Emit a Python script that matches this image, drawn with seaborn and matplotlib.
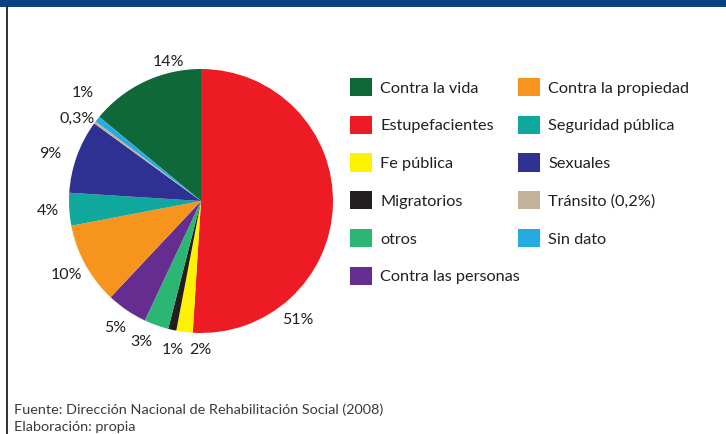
import numpy as np
import matplotlib
matplotlib.use("Agg")
import matplotlib.pyplot as plt
import seaborn as sns
from matplotlib.patches import Rectangle
from matplotlib.lines import Line2D

# data (legend order, clockwise from Contra la vida)
categories = ["Contra la vida", "Estupefacientes", "Fe pública", "Migratorios", "otros",
              "Contra las personas", "Contra la propiedad", "Seguridad pública", "Sexuales",
              "Tránsito (0,2%)", "Sin dato"]
values = [14, 51, 2, 1, 3, 5, 10, 4, 9, 0.3, 0.7]
pct_labels = ["14%", "51%", "2%", "1%", "3%", "5%", "10%", "4%", "9%", "0,3%", "1%"]
colors = ["#0e6838", "#ed1c24", "#fff200", "#231f20", "#2bb673", "#662d91",
          "#f7941d", "#10a89d", "#2e3192", "#c3b299", "#27aae1"]

sns.set_style("white")
plt.rcParams["font.family"] = ["Lato", "DejaVu Sans"]
txt_color = "#231f20"

fig = plt.figure(figsize=(7.26, 4.34), dpi=100)

# frame decorations: blue top band and left rule
fig.patches.append(Rectangle((0, 1 - 7 / 434), 1, 7 / 434, transform=fig.transFigure,
                             facecolor="#0a4182", edgecolor="none"))
fig.lines.append(Line2D([6.5 / 726, 6.5 / 726], [0, 1 - 7 / 434], transform=fig.transFigure,
                        color="#231f20", lw=1.3))

ax = fig.add_axes([69 / 726, 101 / 434, 264 / 726, 264 / 434])
total = sum(values)
start = 90 + values[0] / total * 360
wedges, _ = ax.pie(values, colors=colors, startangle=start, counterclock=False,
                   wedgeprops=dict(linewidth=0))
ax.set_xlim(-1, 1)
ax.set_ylim(-1, 1)
ax.set_aspect("equal")
ax.axis("off")

# percentage labels around the pie (a few nudged like the original: angle, distance)
nudge = {0: (-12, -0.08), 1: (-49, 0), 2: (7, -0.03), 3: (2, -0.01), 4: (-3, 0),
         8: (2.4, 0.04), 9: (3, -0.03), 10: (-4, 0.05)}
for i, (w, lab) in enumerate(zip(wedges, pct_labels)):
    da, dd = nudge.get(i, (0, 0))
    ang = np.deg2rad((w.theta1 + w.theta2) / 2 + da)
    d = 1.16 + dd
    ax.text(d * np.cos(ang), d * np.sin(ang), lab, ha="center", va="center",
            fontsize=11.5, color=txt_color)

# legend in two blocks
leg_kw = dict(frameon=False, loc="upper left", fontsize=11.7, handlelength=1.35,
              handleheight=1.35, handletextpad=0.5, labelspacing=1.2, borderpad=0,
              borderaxespad=0, labelcolor=txt_color)
leg1 = fig.legend(wedges[:6], categories[:6], bbox_to_anchor=(350 / 726, 1 - 78 / 434), **leg_kw)
leg2 = fig.legend(wedges[6:], categories[6:], bbox_to_anchor=(518 / 726, 1 - 78 / 434), **leg_kw)

fig.text(14 / 726, 1 - 410 / 434, "Fuente: Dirección Nacional de Rehabilitación Social (2008)",
         fontsize=10.4, color="#3a3a3a", va="center")
fig.text(14 / 726, 1 - 427 / 434, "Elaboración: propia",
         fontsize=10.4, color="#3a3a3a", va="center")

fig.savefig("out.png", dpi=100)
